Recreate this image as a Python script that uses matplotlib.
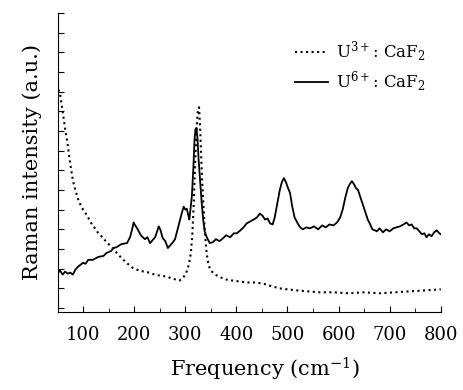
import matplotlib
matplotlib.use("Agg")
import matplotlib.pyplot as plt
from matplotlib.ticker import MultipleLocator

plt.rcParams['font.family'] = ['DejaVu Serif']
plt.rcParams['mathtext.fontset'] = 'dejavuserif'

# ---------- data ----------
# U3+ : CaF2 (dotted)
x_u3 = [52, 55, 60, 65, 70, 74, 80, 86, 92, 100, 108, 115, 122, 130, 138, 146,
        154, 160, 166, 175, 185, 197, 210, 220, 230, 240, 250, 263, 275, 288,
        295, 302, 307, 311, 314, 317, 320, 323, 325, 327, 329, 331, 333, 335,
        338, 341, 344, 348, 354, 362, 370, 380, 387, 395, 405, 420, 435, 452,
        470, 485, 500, 518, 540, 563, 590, 620, 650, 680, 710, 740, 770, 800]
y_u3 = [11.1, 10.9, 10.0, 9.1, 8.3, 7.5, 6.5, 5.9, 5.4, 5.0, 4.7, 4.35, 4.1,
        3.8, 3.6, 3.35, 3.15, 3.0, 2.8, 2.55, 2.3, 2.05, 1.9, 1.85, 1.8, 1.7,
        1.65, 1.6, 1.5, 1.4, 1.5, 1.8, 2.2, 2.8, 3.8, 5.6, 7.8, 9.5, 10.1, 10.2,
        9.2, 7.8, 6.5, 5.5, 4.0, 3.0, 2.4, 2.0, 1.8, 1.65, 1.55, 1.45, 1.4,
        1.4, 1.35, 1.3, 1.3, 1.25, 1.1, 1.0, 0.95, 0.9, 0.85, 0.8, 0.8, 0.75,
        0.8, 0.75, 0.8, 0.85, 0.9, 0.95]

# U6+ : CaF2 (solid)
x_u6 = [51, 55, 60, 65, 70, 75, 80, 85, 90, 95, 100, 105, 110, 119, 130, 140,
        146, 155, 160, 166, 175, 186, 192, 196, 199, 202, 207, 213, 221, 226,
        231, 236, 241, 245, 248, 251, 256, 261, 266, 271, 276, 280, 285, 290,
        294, 297, 300, 303, 306, 308, 310, 313, 316, 318, 320, 322, 324, 326,
        329, 332, 335, 338, 342, 348, 354, 360, 367, 374, 380, 388, 395, 401,
        408, 414, 420, 427, 434, 440, 446, 451, 456, 461, 466, 471, 475, 480,
        485, 489, 493, 497, 501, 505, 509, 514, 520, 525, 530, 537, 544, 552,
        560, 568, 575, 582, 590, 597, 603, 608, 613, 618, 622, 626, 630, 634,
        638, 643, 647, 652, 657, 661, 666, 671, 675, 680, 687, 693, 700, 707,
        713, 720, 727, 733, 738, 743, 748, 753, 758, 763, 768, 772, 777, 782,
        787, 792, 797, 800]
y_u6 = [1.8, 1.9, 1.7, 1.85, 1.75, 1.8, 1.7, 1.95, 2.1, 2.2, 2.3, 2.25, 2.45,
        2.45, 2.6, 2.65, 2.8, 2.9, 3.05, 3.1, 3.25, 3.3, 3.6, 4.0, 4.35, 4.2,
        4.0, 3.7, 3.5, 3.6, 3.3, 3.45, 3.6, 3.9, 4.15, 4.0, 3.55, 3.4, 3.05,
        3.2, 3.35, 3.5, 4.0, 4.5, 4.9, 5.15, 5.0, 5.05, 4.7, 4.5, 5.0, 5.7,
        7.2, 8.5, 9.1, 9.15, 8.6, 7.6, 6.5, 5.4, 4.5, 3.9, 3.6, 3.3, 3.35, 3.5,
        3.4, 3.55, 3.7, 3.6, 3.8, 3.8, 3.95, 4.1, 4.3, 4.4, 4.5, 4.6, 4.8, 4.7,
        4.5, 4.55, 4.3, 4.25, 4.6, 5.3, 6.0, 6.4, 6.6, 6.4, 6.1, 5.85, 5.2, 4.6,
        4.3, 4.1, 4.0, 4.1, 4.05, 4.15, 4.0, 4.2, 4.1, 4.25, 4.2, 4.35, 4.6,
        5.0, 5.6, 6.1, 6.3, 6.45, 6.3, 6.1, 6.0, 5.6, 5.3, 4.9, 4.5, 4.3, 4.0,
        3.95, 3.9, 4.05, 3.85, 4.0, 3.9, 4.05, 4.1, 4.15, 4.25, 4.35, 4.2, 4.25,
        4.05, 4.05, 3.9, 3.75, 3.8, 3.6, 3.75, 3.65, 3.85, 3.95, 3.8, 3.75]

x_ticks = [100, 200, 300, 400, 500, 600, 700, 800]

# ---------- plot ----------
fig = plt.figure(figsize=(4.64, 3.9), dpi=100)
ax = fig.add_axes([0.125, 0.2, 0.825, 0.767])

ax.plot(x_u3, y_u3, color='black', linestyle=':', linewidth=1.5,
        label=r'U$^{3+}$: CaF$_2$')
ax.plot(x_u6, y_u6, color='black', linestyle='-', linewidth=1.3,
        label=r'U$^{6+}$: CaF$_2$')

ax.set_xlim(51, 800)
ax.set_ylim(-0.2, 15)
ax.set_xticks(x_ticks)
ax.xaxis.set_minor_locator(MultipleLocator(50))
ax.yaxis.set_major_locator(MultipleLocator(1))
ax.set_yticklabels([])

ax.spines['top'].set_visible(False)
ax.spines['right'].set_visible(False)
ax.tick_params(axis='both', which='both', direction='in', labelsize=13)
ax.tick_params(axis='x', which='major', length=4, pad=10)
ax.tick_params(axis='y', which='major', length=4)
ax.tick_params(axis='x', which='minor', length=3)

ax.set_xlabel(r'Frequency (cm$^{-1}$)', fontsize=15)
ax.xaxis.set_label_coords(0.54, -0.145)
ax.set_ylabel('Raman intensity (a.u.)', fontsize=15, labelpad=8)

ax.legend(loc='upper right', bbox_to_anchor=(1.0, 0.96), frameon=False,
          fontsize=12, handlelength=2.0, handletextpad=0.5, labelspacing=0.3)

fig.savefig('out.png', dpi=100)
